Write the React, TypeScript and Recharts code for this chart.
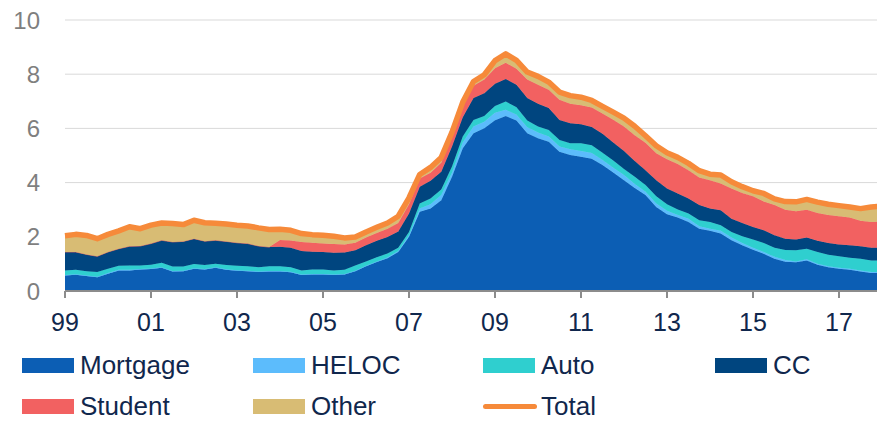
import {
  ComposedChart,
  Area,
  Line,
  XAxis,
  YAxis,
  CartesianGrid,
} from 'recharts';

// quarterly, 1999Q1 .. 2018Q1
const mortgage = [
  0.57, 0.6, 0.55, 0.51, 0.64, 0.76, 0.76, 0.79, 0.81, 0.86,
  0.72, 0.73, 0.82, 0.79, 0.86, 0.78, 0.75, 0.73, 0.7, 0.72,
  0.72, 0.69, 0.59, 0.61, 0.61, 0.59, 0.61, 0.73, 0.91, 1.07,
  1.21, 1.44, 2.0, 2.92, 3.04, 3.35, 4.22, 5.27, 5.82, 6.01,
  6.3, 6.46, 6.29, 5.82, 5.64, 5.51, 5.14, 5.02, 4.95, 4.88,
  4.65, 4.37, 4.09, 3.8, 3.54, 3.1, 2.83, 2.71, 2.55, 2.3,
  2.22, 2.12, 1.87, 1.69, 1.52, 1.37, 1.19, 1.08, 1.06, 1.13,
  0.97, 0.88, 0.82, 0.78, 0.72, 0.66, 0.66,
];
const heloc = [
  0.02, 0.02, 0.02, 0.02, 0.02, 0.02, 0.02, 0.02, 0.02, 0.02,
  0.02, 0.02, 0.02, 0.02, 0.02, 0.02, 0.02, 0.02, 0.02, 0.02,
  0.02, 0.02, 0.02, 0.02, 0.02, 0.02, 0.02, 0.02, 0.02, 0.02,
  0.03, 0.04, 0.06, 0.12, 0.16, 0.19, 0.14, 0.21, 0.25, 0.24,
  0.28, 0.23, 0.21, 0.22, 0.21, 0.19, 0.19, 0.21, 0.22, 0.21,
  0.18, 0.18, 0.19, 0.15, 0.12, 0.13, 0.13, 0.09, 0.12, 0.09,
  0.08, 0.1, 0.1, 0.08, 0.08, 0.07, 0.07, 0.06, 0.03, 0.04,
  0.04, 0.03, 0.04, 0.04, 0.04, 0.04, 0.04,
];
const auto = [
  0.17, 0.16, 0.16, 0.17, 0.16, 0.15, 0.16, 0.13, 0.14, 0.16,
  0.16, 0.15, 0.16, 0.15, 0.13, 0.16, 0.16, 0.16, 0.16, 0.17,
  0.17, 0.17, 0.15, 0.16, 0.16, 0.15, 0.15, 0.19, 0.16, 0.16,
  0.14, 0.12, 0.12, 0.19, 0.21, 0.21, 0.23, 0.22, 0.24, 0.21,
  0.25, 0.3, 0.28, 0.25, 0.22, 0.24, 0.24, 0.22, 0.28, 0.29,
  0.27, 0.27, 0.22, 0.27, 0.25, 0.27, 0.24, 0.21, 0.19, 0.22,
  0.25, 0.21, 0.21, 0.25, 0.3, 0.33, 0.34, 0.37, 0.41, 0.39,
  0.43, 0.43, 0.42, 0.41, 0.43, 0.43, 0.43,
];
const cc = [
  0.68, 0.66, 0.62, 0.58, 0.62, 0.63, 0.71, 0.72, 0.78, 0.83,
  0.91, 0.93, 0.93, 0.88, 0.86, 0.87, 0.85, 0.84, 0.78, 0.71,
  0.72, 0.72, 0.72, 0.66, 0.65, 0.65, 0.64, 0.56, 0.6, 0.6,
  0.61, 0.6, 0.68, 0.62, 0.66, 0.65, 0.74, 0.71, 0.81, 0.84,
  0.82, 0.83, 0.83, 0.83, 0.84, 0.81, 0.74, 0.74, 0.7, 0.67,
  0.7, 0.66, 0.67, 0.58, 0.55, 0.59, 0.58, 0.59, 0.55, 0.56,
  0.49, 0.55, 0.49, 0.49, 0.46, 0.47, 0.46, 0.42, 0.4, 0.41,
  0.41, 0.43, 0.44, 0.46, 0.46, 0.47, 0.47,
];
const student = [
  0, 0, 0, 0, 0, 0, 0, 0, 0, 0,
  0, 0, 0, 0, 0, 0, 0, 0, 0, 0,
  0.25, 0.26, 0.33, 0.33, 0.31, 0.32, 0.3, 0.28, 0.28, 0.29,
  0.31, 0.31, 0.34, 0.3, 0.29, 0.33, 0.39, 0.42, 0.45, 0.5,
  0.57, 0.6, 0.59, 0.68, 0.7, 0.68, 0.75, 0.72, 0.7, 0.72,
  0.75, 0.84, 0.9, 0.95, 1.01, 0.99, 1.08, 1.09, 1.05, 1.02,
  1.05, 0.99, 1.11, 1.11, 1.14, 1.06, 1.11, 1.07, 1.04, 1.03,
  1.03, 1.03, 1.04, 1.02, 0.94, 0.95, 0.96,
];
const other = [
  0.6, 0.65, 0.7, 0.65, 0.65, 0.66, 0.72, 0.64, 0.68, 0.64,
  0.68, 0.62, 0.68, 0.68, 0.63, 0.64, 0.65, 0.65, 0.67, 0.65,
  0.4, 0.38, 0.31, 0.3, 0.31, 0.29, 0.24, 0.21, 0.21, 0.21,
  0.21, 0.25, 0.24, 0.15, 0.2, 0.2, 0.14, 0.14, 0.16, 0.18,
  0.28, 0.33, 0.31, 0.28, 0.31, 0.28, 0.28, 0.3, 0.3, 0.26,
  0.26, 0.28, 0.31, 0.33, 0.26, 0.28, 0.24, 0.24, 0.25, 0.25,
  0.22, 0.31, 0.25, 0.23, 0.2, 0.3, 0.23, 0.3, 0.35, 0.38,
  0.4, 0.4, 0.39, 0.39, 0.45, 0.55, 0.57,
];

const yearLabels = ['99', '01', '03', '05', '07', '09', '11', '13', '15', '17'];
const yTicks = [0, 2, 4, 6, 8, 10];

const COLORS = {
  mortgage: '#0c5eb4',
  heloc: '#5cbcfc',
  auto: '#2fcfcf',
  cc: '#00457f',
  student: '#f26161',
  other: '#d8bc74',
  total: '#f68a3a',
};

const NAVY = '#10274d';
const FONT = '"Liberation Sans", Arial, sans-serif';

const data = mortgage.map((m, i) => ({
  q: i,
  mortgage: m,
  heloc: heloc[i],
  auto: auto[i],
  cc: cc[i],
  student: student[i],
  other: other[i],
  total: +(m + heloc[i] + auto[i] + cc[i] + student[i] + other[i]).toFixed(2),
}));

const series: { key: keyof typeof COLORS; name: string }[] = [
  { key: 'mortgage', name: 'Mortgage' },
  { key: 'heloc', name: 'HELOC' },
  { key: 'auto', name: 'Auto' },
  { key: 'cc', name: 'CC' },
  { key: 'student', name: 'Student' },
  { key: 'other', name: 'Other' },
];

const legendItems = [
  ...series.map((s) => ({ ...s, line: false })),
  { key: 'total' as const, name: 'Total', line: true },
];

function LegendBlock() {
  const cols = [22, 253, 483, 715];
  const rows = [365, 406];
  return (
    <>
      {legendItems.map((item, i) => (
        <div
          key={item.key}
          style={{
            position: 'absolute',
            left: cols[i % 4],
            top: rows[Math.floor(i / 4)] - 12,
            height: 24,
            lineHeight: '24px',
            display: 'flex',
            alignItems: 'center',
            fontFamily: FONT,
            fontSize: 26,
            color: NAVY,
            whiteSpace: 'nowrap',
          }}
        >
          {item.line ? (
            <div
              style={{
                width: 54,
                height: 5,
                borderRadius: 3,
                background: COLORS[item.key],
                marginRight: 4,
              }}
            />
          ) : (
            <div
              style={{
                width: 52,
                height: 15,
                background: COLORS[item.key],
                marginRight: 6,
              }}
            />
          )}
          <span>{item.name}</span>
        </div>
      ))}
    </>
  );
}

export default function App() {
  return (
    <div
      style={{
        position: 'absolute',
        left: 0,
        top: 0,
        width: 877,
        height: 421,
        overflow: 'hidden',
        background: '#fff',
      }}
    >
      <ComposedChart
        width={890}
        height={341}
        data={data}
        margin={{ top: 20, right: 8, left: 0, bottom: 0 }}
      >
        <CartesianGrid vertical={false} stroke="#d9d9d9" />
        <XAxis
          dataKey="q"
          type="number"
          domain={[0, 76]}
          ticks={yearLabels.map((_, i) => i * 8)}
          tickFormatter={(v: number) => yearLabels[v / 8] ?? ''}
          height={50}
          stroke="#8c8c8c"
          strokeWidth={2}
          tickSize={7}
          tickMargin={15}
          tick={{ fill: NAVY, fontSize: 25, fontFamily: FONT }}
          interval={0}
        />
        <YAxis
          domain={[0, 10]}
          ticks={yTicks}
          width={65}
          axisLine={false}
          tickLine={false}
          tickSize={0}
          tickMargin={25}
          tick={{ fill: '#7f7f7f', fontSize: 24, fontFamily: FONT }}
        />
        {series.map((s) => (
          <Area
            key={s.key}
            type="linear"
            dataKey={s.key}
            name={s.name}
            stackId="debt"
            stroke={COLORS[s.key]}
            strokeWidth={0.8}
            fill={COLORS[s.key]}
            fillOpacity={1}
            isAnimationActive={false}
          />
        ))}
        <Line
          type="linear"
          dataKey="total"
          name="Total"
          stroke={COLORS.total}
          strokeWidth={5.5}
          strokeLinejoin="round"
          dot={false}
          activeDot={false}
          isAnimationActive={false}
        />
      </ComposedChart>
      <LegendBlock />
    </div>
  );
}
